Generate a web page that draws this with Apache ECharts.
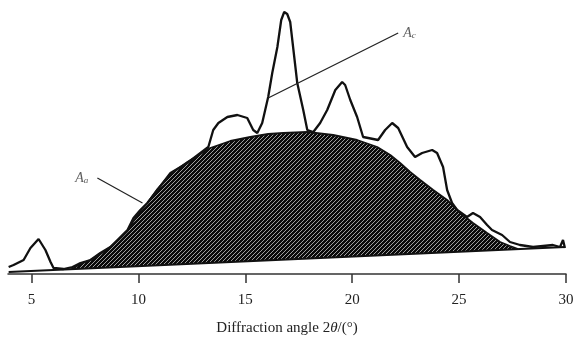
<!DOCTYPE html>
<html>
<head>
<meta charset="utf-8">
<script src="https://cdn.jsdelivr.net/npm/echarts@6/dist/echarts.min.js"></script>
<style>html,body{margin:0;padding:0;background:#fff}#c{width:579px;height:341px}</style>
</head>
<body>
<div id="c"></div>
<script>
// Diffraction pattern (2θ in degrees, intensity in a.u.)
const curveX = [3.93,4.16,4.63,4.95,5.33,5.65,5.89,6.03,6.50,6.92,7.29,7.76,8.22,8.69,9.16,9.49,9.77,10.09,10.42,10.89,11.50,12.29,12.90,13.27,13.50,13.74,14.16,14.63,15.09,15.37,15.56,15.79,15.93,16.07,16.26,16.50,16.68,16.82,16.96,17.10,17.43,17.71,17.90,18.18,18.50,18.83,19.21,19.53,19.67,19.91,20.23,20.51,20.75,21.21,21.54,21.87,22.15,22.57,22.94,23.27,23.74,23.97,24.25,24.44,24.67,24.91,25.37,25.65,25.98,26.31,26.54,27.01,27.38,27.85,28.46,28.93,29.39,29.72,29.86,29.95];
const curveY = [7,9,14,26,35,24,12,6,5,7,11,14,21,27,37,44,56,64,71,84,101,111,121,127,144,151,157,159,156,144,141,151,164,177,201,227,254,262,260,252,191,164,144,142,151,164,184,192,189,174,157,137,136,134,144,151,146,127,117,121,124,121,107,84,71,64,57,61,57,49,44,39,32,29,27,28,29,27,34,26];
// Amorphous hump (A_a)
const humpX = [6.82,7.29,7.76,8.22,8.69,9.16,9.49,9.77,10.09,10.42,10.89,11.50,12.29,12.90,13.36,14.30,15.23,16.07,16.78,17.90,19.11,20.23,21.17,21.78,22.24,22.71,23.18,23.79,24.44,25.05,25.65,26.31,26.92,27.38,27.76];
const humpY = [4,10,14,20,27,36,43,53,63,71,85,100,112,120,126,133,137,140,141,142,139,134,127,119,111,102,94,84,74,61,51,41,32,28,25];
// Baseline
const baseX = [3.93,29.95];
const baseY = [2,27];
// Tick labels
const xTicks = [5,10,15,20,25,30];
// Annotation leader lines
const leaderAc = [[16.07,176],[22.15,241]];
const leaderAa = [[8.08,96],[10.19,71]];

const zip = (a,b) => a.map((v,i)=>[v,b[i]]);

// hatch pattern
const pc = document.createElement('canvas');
pc.width = 4; pc.height = 4;
const ctx = pc.getContext('2d');
ctx.fillStyle = '#0a0a0a';
ctx.fillRect(0,0,4,4);
ctx.strokeStyle = '#d0d0d0';
ctx.lineWidth = 0.75;
ctx.beginPath();
ctx.moveTo(0,4); ctx.lineTo(4,0);
ctx.moveTo(-1,1); ctx.lineTo(1,-1);
ctx.moveTo(3,5); ctx.lineTo(5,3);
ctx.stroke();

const serif = '"Liberation Serif","DejaVu Serif",serif';
const chart = echarts.init(document.getElementById('c'), null, {renderer:'canvas'});
chart.setOption({
  animation:false,
  backgroundColor:'#fff',
  grid:{left:8,right:13,top:0,bottom:67,containLabel:false},
  xAxis:{
    type:'value', min:3.9, max:30, z:10,
    axisLine:{show:true, onZero:false, lineStyle:{color:'#333', width:1.5}},
    axisTick:{show:true, length:9, customValues:xTicks, lineStyle:{color:'#333', width:1.5}},
    axisLabel:{customValues:xTicks, margin:19, color:'#222', fontFamily:serif, fontSize:15},
    splitLine:{show:false},
    name:'Diffraction angle 2{i|θ}/(°)',
    nameLocation:'middle', nameGap:47,
    nameTextStyle:{color:'#222', fontFamily:serif, fontSize:15, rich:{i:{fontStyle:'italic', fontFamily:serif, fontSize:15, color:'#222'}}}
  },
  yAxis:{type:'value', min:0, max:274, show:false},
  series:[
    {type:'line', data:zip(humpX,humpY), symbol:'none', z:2,
     lineStyle:{color:'#111', width:1.8},
     areaStyle:{color:{image:pc, repeat:'repeat'}, opacity:1}},
    {type:'line', data:zip(baseX,baseY), symbol:'none', z:3,
     lineStyle:{color:'#111', width:2},
     areaStyle:{color:'#fff', opacity:1}},
    {type:'line', data:zip(curveX,curveY), symbol:'none', z:4,
     lineStyle:{color:'#111', width:2.3}},
    {type:'line', data:leaderAc, symbol:'none', z:5, lineStyle:{color:'#222', width:1.2}},
    {type:'line', data:leaderAa, symbol:'none', z:5, lineStyle:{color:'#222', width:1.2}},
    {type:'scatter', symbolSize:0, z:6,
     data:[
       {value:leaderAc[1], label:{position:'right', distance:5, formatter:'{a|A}{s|c}'}},
       {value:leaderAa[0], label:{position:'left', distance:9, formatter:'{a|A}{s|a}'}}
     ],
     label:{show:true, rich:{
       a:{fontFamily:serif, fontStyle:'italic', fontSize:14, color:'#333'},
       s:{fontFamily:serif, fontStyle:'italic', fontSize:9, color:'#333', verticalAlign:'bottom', padding:[6,0,0,0]}
     }}}
  ]
});
</script>
</body>
</html>
